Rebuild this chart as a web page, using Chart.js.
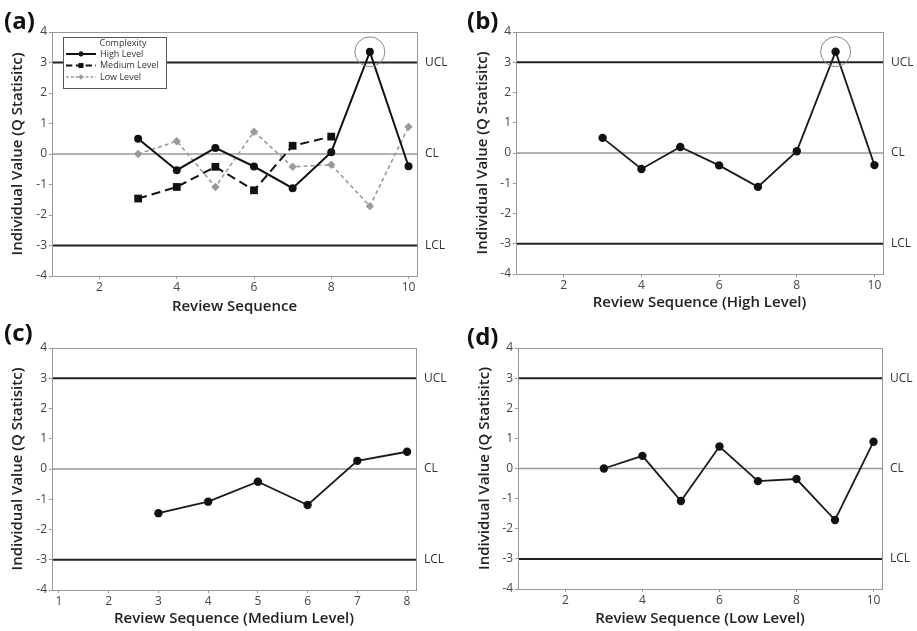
<!DOCTYPE html>
<html>
<head>
<meta charset="utf-8">
<script src="https://cdn.jsdelivr.net/npm/chart.js@4.4.1/dist/chart.umd.min.js"></script>
<style>
body { margin:0; background:#fff; width:917px; height:631px; position:relative; overflow:hidden; }
canvas { position:absolute; }
</style>
</head>
<body>
<canvas id="chartA" width="458" height="320" style="left:0;top:0"></canvas>
<canvas id="chartB" width="459" height="320" style="left:458px;top:0"></canvas>
<canvas id="chartC" width="458" height="321" style="left:0;top:310px"></canvas>
<canvas id="chartD" width="459" height="321" style="left:458px;top:310px"></canvas>
<script>
// data
const seqHigh = [3, 4, 5, 6, 7, 8, 9, 10];
const highValues = [0.5, -0.53, 0.2, -0.41, -1.12, 0.06, 3.35, -0.4];
const seqMedium = [3, 4, 5, 6, 7, 8];
const mediumValues = [-1.46, -1.08, -0.42, -1.19, 0.27, 0.57];
const seqLow = [3, 4, 5, 6, 7, 8, 9, 10];
const lowValues = [0.0, 0.42, -1.08, 0.73, -0.42, -0.35, -1.71, 0.89];

const limitValues = [3, 0, -3];
const limitLabels = ['UCL', 'CL', 'LCL'];
const yTicks = [-4, -3, -2, -1, 0, 1, 2, 3, 4];
const xTicksEven = [2, 4, 6, 8, 10];
const xTicksMedium = [1, 2, 3, 4, 5, 6, 7, 8];
const legendTitle = 'Complexity';
const legendLabels = ['High Level', 'Medium Level', 'Low Level'];

const FONT = '"Open Sans", "Noto Sans", sans-serif';

function pts(xs, ys) {
    return xs.map((x, i) => ({x: x, y: ys[i]}));
}

const styleHigh = {borderColor:'#111', backgroundColor:'#111', borderWidth:2, pointStyle:'circle', pointRadius:4, borderDash:[]};
const styleMedium = {borderColor:'#111', backgroundColor:'#111', borderWidth:2, pointStyle:'rect', pointRadius:5.5, borderDash:[9,5]};
const styleLow = {borderColor:'#9a9a9a', backgroundColor:'#9a9a9a', borderWidth:1.6, pointStyle:'rectRot', pointRadius:4.2, borderDash:[4,3]};
const styleSingle = {borderColor:'#1a1a1a', backgroundColor:'#111', borderWidth:1.8, pointStyle:'circle', pointRadius:4.2, borderDash:[]};

// frame, control limits, circled out-of-control points, legend, panel letter
const controlPlugin = {
    id: 'controlPlugin',
    beforeDatasetsDraw(chart) {
        const ctx = chart.ctx, a = chart.chartArea, ys = chart.scales.y;
        ctx.save();
        limitValues.forEach((v, i) => {
            const py = ys.getPixelForValue(v);
            ctx.beginPath();
            ctx.strokeStyle = v === 0 ? '#999' : '#222';
            ctx.lineWidth = v === 0 ? 1.3 : 2;
            ctx.moveTo(a.left, py);
            ctx.lineTo(a.right, py);
            ctx.stroke();
            ctx.fillStyle = '#333';
            ctx.font = '12px ' + FONT;
            ctx.textAlign = 'left';
            ctx.textBaseline = 'middle';
            ctx.fillText(limitLabels[i], a.right + 8, py);
        });
        ctx.strokeStyle = '#999';
        ctx.lineWidth = 1;
        ctx.strokeRect(a.left + 0.5, a.top + 0.5, a.right - a.left, a.bottom - a.top);
        ctx.restore();
    },
    afterDatasetsDraw(chart, args, opts) {
        const ctx = chart.ctx, a = chart.chartArea;
        const xs = chart.scales.x, ys = chart.scales.y;
        ctx.save();
        // circle points above UCL
        chart.data.datasets.forEach(ds => {
            if (!ds.circleOut) return;
            ds.data.forEach(p => {
                if (p.y > limitValues[0]) {
                    ctx.beginPath();
                    ctx.strokeStyle = '#888';
                    ctx.lineWidth = 1;
                    ctx.arc(xs.getPixelForValue(p.x), ys.getPixelForValue(p.y), 15, 0, Math.PI * 2);
                    ctx.stroke();
                }
            });
        });

        if (opts.legend) {
            const lx = a.left + 11, ly = a.top + 5, lw = 103, lh = 51;
            ctx.fillStyle = '#fff';
            ctx.fillRect(lx, ly, lw, lh);
            ctx.strokeStyle = '#555';
            ctx.lineWidth = 1;
            ctx.strokeRect(lx + 0.5, ly + 0.5, lw, lh);
            ctx.fillStyle = '#333';
            ctx.font = '9px ' + FONT;
            ctx.textAlign = 'center';
            ctx.textBaseline = 'middle';
            ctx.fillText(legendTitle, lx + 60, ly + 6);
            chart.data.datasets.forEach((ds, i) => {
                const ry = ly + 17 + i * 11.5;
                ctx.beginPath();
                ctx.strokeStyle = ds.borderColor;
                ctx.lineWidth = ds.borderWidth;
                ctx.setLineDash(ds.borderDash.length ? ds.borderDash.map(d => d * 0.7) : []);
                ctx.moveTo(lx + 3, ry);
                ctx.lineTo(lx + 33, ry);
                ctx.stroke();
                ctx.setLineDash([]);
                ctx.fillStyle = ds.backgroundColor;
                Chart.helpers.drawPoint(ctx, {pointStyle: ds.pointStyle, radius: ds.pointRadius * 0.6, borderWidth: 0}, lx + 18, ry);
                ctx.fill();
                ctx.fillStyle = '#333';
                ctx.textAlign = 'left';
                ctx.fillText(legendLabels[i], lx + 37, ry);
            });
        }

        ctx.fillStyle = '#111';
        ctx.font = 'bold 24px ' + FONT;
        ctx.textAlign = 'left';
        ctx.textBaseline = 'middle';
        ctx.fillText(opts.letter, opts.letterX, opts.letterY);
        ctx.restore();
    }
};

function makePanel(id, datasets, xTitle, xTickList, xMin, xMax, g) {
    return new Chart(document.getElementById(id), {
        type: 'line',
        data: {datasets: datasets},
        options: {
            responsive: false,
            animation: false,
            layout: {padding: {top: g.top, right: g.right, left: 0, bottom: 0}},
            plugins: {
                legend: {display: false},
                tooltip: {enabled: false},
                controlPlugin: {legend: g.legend, letter: g.letter, letterX: g.letterX, letterY: g.letterY}
            },
            scales: {
                x: {
                    type: 'linear',
                    min: xMin,
                    max: xMax,
                    afterBuildTicks: s => { s.ticks = xTickList.map(v => ({value: v})); },
                    afterFit: s => { s.height = g.bottom; },
                    grid: {drawOnChartArea: false, drawTicks: true, tickLength: 3, color: '#999'},
                    border: {display: false},
                    ticks: {color: '#444', font: {family: FONT, size: 12}, padding: 1, maxRotation: 0},
                    title: {display: true, text: xTitle, color: '#222', font: {family: FONT, size: 15, weight: '600'}, padding: {top: 0, bottom: g.titlePadB}}
                },
                y: {
                    min: -4,
                    max: 4,
                    afterBuildTicks: s => { s.ticks = yTicks.map(v => ({value: v})); },
                    afterFit: s => { s.width = g.left; },
                    grid: {drawOnChartArea: false, drawTicks: true, tickLength: 3, color: '#999'},
                    border: {display: false},
                    ticks: {color: '#444', font: {family: FONT, size: 12}, padding: 2},
                    title: {display: true, text: 'Individual Value (Q Statisitc)', color: '#222', font: {family: FONT, size: 15, weight: '600'}, padding: {top: g.titlePadL, bottom: 0}}
                }
            }
        },
        plugins: [controlPlugin]
    });
}

function ds(xs, ys, style, circleOut) {
    return Object.assign({data: pts(xs, ys), fill: false, tension: 0, pointBorderWidth: 0, circleOut: circleOut}, style);
}

makePanel('chartA', [
    ds(seqHigh, highValues, styleHigh, true),
    ds(seqMedium, mediumValues, styleMedium, false),
    ds(seqLow, lowValues, styleLow, false)
], 'Review Sequence', xTicksEven, 0.77, 10.22,
    {top: 32, right: 41, left: 52, bottom: 44, titlePadB: 4, titlePadL: 9, legend: true, letter: '(a)', letterX: 4, letterY: 22});

makePanel('chartB', [
    ds(seqHigh, highValues, styleSingle, true)
], 'Review Sequence (High Level)', xTicksEven, 0.77, 10.22,
    {top: 32, right: 34, left: 58, bottom: 46, titlePadB: 8, titlePadL: 16, legend: false, letter: '(b)', letterX: 9, letterY: 22});

makePanel('chartC', [
    ds(seqMedium, mediumValues, styleSingle, false)
], 'Review Sequence (Medium Level)', xTicksMedium, 0.86, 8.18,
    {top: 38, right: 42, left: 52, bottom: 41, titlePadB: 3, titlePadL: 9, legend: false, letter: '(c)', letterX: 4, letterY: 24});

makePanel('chartD', [
    ds(seqLow, lowValues, styleSingle, false)
], 'Review Sequence (Low Level)', xTicksEven, 0.77, 10.22,
    {top: 38, right: 35, left: 60, bottom: 42, titlePadB: 3, titlePadL: 18, legend: false, letter: '(d)', letterX: 9, letterY: 28});
</script>
</body>
</html>
